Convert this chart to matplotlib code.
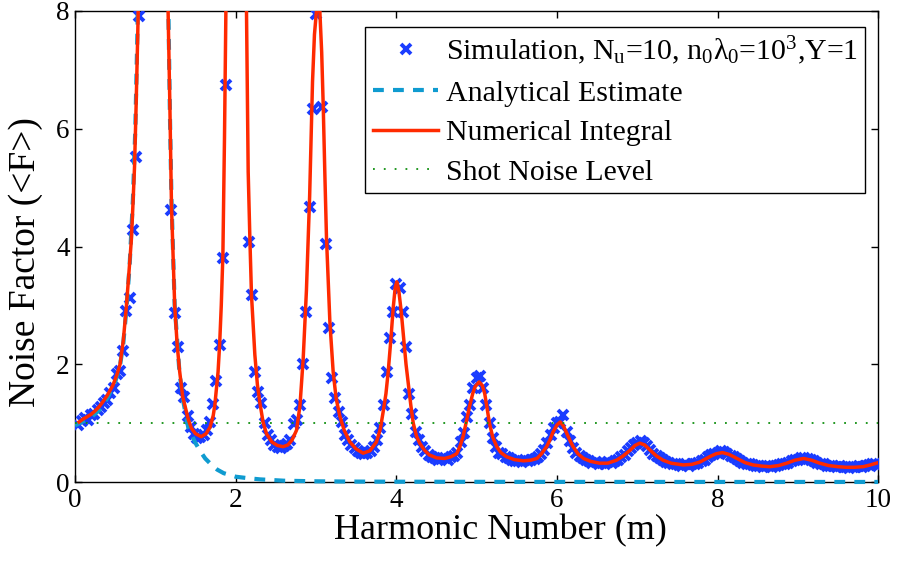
import numpy as np
import matplotlib
matplotlib.use("Agg")
import matplotlib.pyplot as plt
from matplotlib.patches import Rectangle

plt.rcParams['font.family'] = ['Liberation Serif', 'DejaVu Serif']
plt.rcParams['mathtext.fontset'] = 'custom'
plt.rcParams['mathtext.rm'] = 'Liberation Serif'
plt.rcParams['mathtext.it'] = 'Liberation Serif:italic'

# ---------------- data ----------------
# Numerical integral (red)
red_m = [0.05, 0.10, 0.14, 0.20, 0.25, 0.30, 0.35, 0.40, 0.47, 0.52, 0.56, 0.60, 0.64, 0.67, 0.70,
         0.72, 0.74, 0.76, 0.78, 0.80, 0.84, 0.90, 1.00, 1.10, 1.14, 1.158, 1.18, 1.20, 1.24, 1.27,
         1.30, 1.34, 1.37, 1.41, 1.45, 1.50, 1.57, 1.63, 1.68, 1.72, 1.74, 1.78, 1.80, 1.82, 1.84,
         1.86, 1.877, 1.90, 1.95, 2.00, 2.07, 2.11, 2.134, 2.155, 2.176, 2.196, 2.238, 2.27, 2.30, 2.34,
         2.383, 2.45, 2.52, 2.59, 2.65, 2.70, 2.757, 2.80, 2.84, 2.88, 2.92, 2.956, 2.98, 3.005, 3.025,
         3.047, 3.07, 3.089, 3.11, 3.13, 3.172, 3.213, 3.25, 3.296, 3.35, 3.421, 3.50, 3.586, 3.67, 3.752,
         3.80, 3.835, 3.87, 3.898, 3.93, 3.96, 3.985, 4.005, 4.03, 4.06, 4.085, 4.12, 4.147, 4.18, 4.21,
         4.25, 4.29, 4.35, 4.41, 4.50, 4.60, 4.68, 4.75, 4.79, 4.83, 4.87, 4.91, 4.95, 4.98, 5.03,
         5.07, 5.10, 5.13, 5.16, 5.20, 5.25, 5.30, 5.37, 5.47, 5.58, 5.67, 5.75, 5.80, 5.87, 5.91,
         5.95, 6.00, 6.04, 6.08, 6.12, 6.16, 6.20, 6.26, 6.33, 6.42, 6.53, 6.63, 6.74, 6.82, 6.91,
         6.97, 7.03, 7.09, 7.16, 7.24, 7.32, 7.42, 7.57, 7.68, 7.78, 7.90, 7.98, 8.06, 8.14, 8.24,
         8.34, 8.44, 8.55, 8.65, 8.76, 8.86, 8.96, 9.07, 9.17, 9.27, 9.38, 9.50, 9.60, 9.70, 9.81,
         9.90, 10.00]
red_F = [1.02, 1.07, 1.10, 1.15, 1.21, 1.28, 1.37, 1.47, 1.64, 1.82, 2.00, 2.40, 3.00, 3.55, 4.10,
         4.70, 5.35, 6.40, 7.60, 9.0, 14, 30, 60, 22, 10, 8.0, 6.4, 4.7, 3.0, 2.35,
         1.90, 1.45, 1.28, 1.06, 0.91, 0.82, 0.77, 0.82, 0.93, 1.13, 1.31, 1.87, 2.35, 3.0, 3.85,
         5.84, 7.93, 11, 25, 50, 30, 13, 8.0, 5.27, 4.14, 3.18, 2.16, 1.65, 1.35, 1.02,
         0.82, 0.68, 0.62, 0.60, 0.63, 0.71, 0.88, 1.30, 2.10, 3.25, 4.85, 6.8, 7.6, 8.0, 8.15,
         8.0, 7.3, 6.4, 5.2, 4.14, 2.72, 1.87, 1.42, 1.12, 0.88, 0.68, 0.56, 0.49, 0.53, 0.68,
         0.90, 1.19, 1.50, 1.87, 2.40, 2.95, 3.30, 3.40, 3.25, 2.90, 2.52, 2.00, 1.68, 1.30, 1.00,
         0.78, 0.66, 0.54, 0.46, 0.41, 0.40, 0.43, 0.48, 0.60, 0.77, 1.02, 1.28, 1.50, 1.62, 1.70,
         1.64, 1.50, 1.24, 0.99, 0.76, 0.60, 0.50, 0.43, 0.38, 0.36, 0.37, 0.40, 0.47, 0.60, 0.71,
         0.85, 0.97, 1.02, 0.95, 0.83, 0.71, 0.60, 0.48, 0.40, 0.35, 0.32, 0.32, 0.37, 0.44, 0.54,
         0.62, 0.66, 0.63, 0.54, 0.44, 0.37, 0.32, 0.29, 0.30, 0.34, 0.43, 0.48, 0.50, 0.47, 0.40,
         0.33, 0.29, 0.27, 0.26, 0.28, 0.32, 0.37, 0.40, 0.37, 0.32, 0.28, 0.26, 0.25, 0.25, 0.26,
         0.29, 0.33]

# Analytical estimate (dashed)
an_m = [0.0, 0.10, 0.20, 0.30, 0.40, 0.50, 0.56, 0.60, 0.64, 0.68, 0.72, 0.75, 0.78, 0.80, 0.85,
        0.90, 1.00, 1.10, 1.14, 1.16, 1.18, 1.20, 1.24, 1.30, 1.35, 1.41, 1.45, 1.50, 1.56, 1.62,
        1.70, 1.77, 1.85, 2.00, 2.15, 2.30, 2.60, 3.0, 3.5, 4.0, 5.0, 6.0, 8.0, 10.0]
an_F = [0.96, 1.03, 1.10, 1.22, 1.42, 1.70, 1.98, 2.35, 2.95, 3.7, 4.8, 6.0, 7.9, 9.5, 16,
        30, 70, 25, 11, 8.2, 6.3, 4.8, 3.0, 1.85, 1.35, 0.92, 0.80, 0.66, 0.52, 0.40,
        0.29, 0.21, 0.15, 0.09, 0.065, 0.045, 0.022, 0.012, 0.007, 0.005, 0.003, 0.002, 0.001, 0.001]

# Simulation (x markers), sampled every 0.04 in m
sim_F = [
    0.97, 1.03, 1.08, 1.05, 1.13, 1.15, 1.23, 1.27, 1.34, 1.40, 1.52, 1.60, 1.84, 1.89, 2.22,
    2.90, 3.12, 4.28, 5.52, 7.92, 14, 25, 45, 70, 70,
    45, 25, 14, 9.5, 4.62, 2.87, 2.30, 1.59, 1.45, 1.12, 0.93, 0.82, 0.74, 0.76, 0.80,
    0.88, 1.02, 1.32, 1.72, 2.32, 3.80, 6.74, 15, 40, 60,
    40, 18, 9.0, 4.08, 3.18, 1.87, 1.53, 1.34, 1.00, 0.80, 0.72, 0.63, 0.60, 0.58, 0.62,
    0.64, 0.72, 0.98, 1.05, 1.30, 2.00, 2.89, 4.67, 6.34, 7.95,
    8.6, 6.37, 4.05, 2.61, 1.76, 1.42, 1.19, 1.02, 0.80, 0.72, 0.63, 0.58, 0.52, 0.50, 0.48,
    0.49, 0.52, 0.60, 0.72, 0.92, 1.31, 1.87, 2.45, 2.89, 3.37,
    3.30, 2.89, 2.30, 1.50, 1.15, 0.85, 0.72, 0.60, 0.52, 0.46, 0.43, 0.40, 0.38, 0.39, 0.40,
    0.38, 0.42, 0.45, 0.50, 0.68, 0.84, 1.10, 1.30, 1.60, 1.76,
    1.80, 1.60, 1.30, 1.00, 0.75, 0.60, 0.50, 0.47, 0.43, 0.40, 0.37, 0.35, 0.36, 0.34, 0.37,
    0.35, 0.38, 0.39, 0.42, 0.48, 0.55, 0.66, 0.80, 0.92, 1.00,
    1.02, 1.14, 0.85, 0.70, 0.58, 0.50, 0.44, 0.40, 0.38, 0.35, 0.33, 0.34, 0.31, 0.33, 0.31,
    0.34, 0.33, 0.36, 0.38, 0.42, 0.46, 0.52, 0.57, 0.63, 0.67,
    0.70, 0.66, 0.62, 0.55, 0.48, 0.45, 0.40, 0.37, 0.34, 0.33, 0.31, 0.30, 0.29, 0.28, 0.30,
    0.28, 0.30, 0.31, 0.33, 0.36, 0.38, 0.42, 0.46, 0.48, 0.50,
    0.52, 0.51, 0.48, 0.45, 0.42, 0.39, 0.36, 0.33, 0.31, 0.30, 0.29, 0.28, 0.27, 0.26, 0.28,
    0.27, 0.26, 0.28, 0.29, 0.30, 0.31, 0.33, 0.35, 0.37, 0.38,
    0.41, 0.40, 0.39, 0.37, 0.35, 0.33, 0.31, 0.30, 0.28, 0.28, 0.27, 0.26, 0.27, 0.25, 0.26,
    0.24, 0.26, 0.25, 0.27, 0.26, 0.28, 0.29, 0.30, 0.31, 0.28]
sim_m = np.linspace(0.04, 10.0, len(sim_F))

shot_m = [0.0, 10.0]
shot_F = [1.0, 1.0]

labels = ['Simulation, N$_\\mathrm{u}$=10, n$_\\mathrm{0}$λ$_\\mathrm{0}$=10$^\\mathrm{3}$,Y=1',
          'Analytical Estimate', 'Numerical Integral', 'Shot Noise Level']

# ---------------- figure ----------------
fig = plt.figure(figsize=(8.97, 5.61), dpi=100)
ax = fig.add_axes([0.0837, 0.1408, 0.8955, 0.8396])

ax.plot(sim_m, sim_F, linestyle='none', marker='x', color='#1a3cff', markersize=7.5,
        markeredgewidth=2.8, zorder=3, label=labels[0])
an_line, = ax.plot(an_m, an_F, linestyle=(0, (2.6, 2.2)), color='#0f9bd0', lw=3.0,
                   zorder=3.1, label=labels[1])
ax.plot(red_m, red_F, '-', color='#ff2a00', lw=2.5, zorder=3.2, label=labels[2])
ax.plot(shot_m, shot_F, linestyle=(0, (1, 5)), color='#109010', lw=1.3, zorder=3.3,
        label=labels[3])

ax.set_xlim(0, 10)
ax.set_ylim(0, 8)
clip = Rectangle((0, -0.02), 1, 1.02, transform=ax.transAxes)
an_line.set_clip_path(clip)

ax.set_xticks([0, 2, 4, 6, 8, 10])
ax.set_yticks([0, 2, 4, 6, 8])
ax.tick_params(direction='in', length=5, width=1, top=True, right=True,
               labelsize=19.5, pad=4, colors='black')
for s in ax.spines.values():
    s.set_linewidth(1.0)
    s.set_zorder(2.5)

ax.set_xlabel('Harmonic Number (m)', fontsize=26)
ax.set_ylabel('Noise Factor (<F>)', fontsize=27)
ax.xaxis.set_label_coords(0.529, -0.068)
ax.yaxis.set_label_coords(-0.040, 0.467)

leg = ax.legend(loc='upper right', bbox_to_anchor=(0.984, 0.966), borderaxespad=0,
                fontsize=21.5, frameon=True, fancybox=False, framealpha=1, edgecolor='black',
                numpoints=1, handlelength=2.2, handletextpad=0.25, borderpad=0.25,
                labelspacing=0.42)
leg.get_frame().set_linewidth(1.0)

fig.savefig('out.png', dpi=100)
